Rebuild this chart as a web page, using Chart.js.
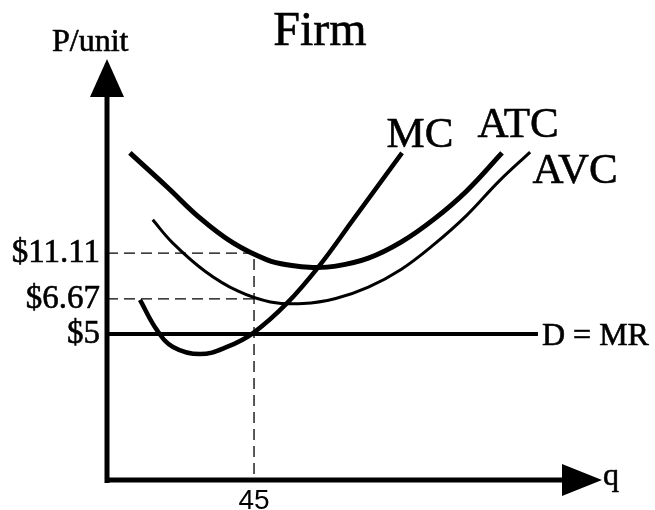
<!DOCTYPE html>
<html>
<head>
<meta charset="utf-8">
<script src="https://cdn.jsdelivr.net/npm/chart.js@4.4.1/dist/chart.umd.min.js"></script>
<style>
  html, body { margin: 0; padding: 0; background: #fff; }
  canvas { display: block; }
</style>
</head>
<body>
<canvas id="chart" width="655" height="510"></canvas>
<script>
// curves: q on x, y in drawing units (the price axis is not to scale)
const mcQ  = [10.1, 15.3, 20.2, 28.5, 36.7, 44.7, 55.1, 65.2, 75.3, 90.3];
const mcY  = [42.8, 35.6, 31.6, 29.9, 31.6, 34.9, 42.0, 51.1, 61.8, 77.7];
const atcQ = [7.0, 18.4, 28.5, 38.6, 49.0, 56.0, 63.0, 70.0, 80.0, 90.0, 100.0, 110.0, 120.9];
const atcY = [77.7, 69.6, 62.2, 56.3, 52.3, 51.0, 50.5, 50.8, 52.7, 56.5, 61.9, 68.6, 77.7];
const avcQ = [14.0, 20.0, 30.0, 40.0, 50.0, 60.0, 70.0, 80.0, 90.0, 100.0, 110.0, 120.0, 129.5];
const avcY = [61.8, 56.4, 49.6, 44.9, 42.3, 41.9, 43.1, 45.8, 50.0, 55.9, 62.8, 71.0, 77.9];

// D = MR line
const demandQ = [0, 131.9];
const demandY = [34.7, 34.7];

// tick labels
const priceTicks  = [34.7, 43.0, 53.9];
const priceLabels = ['$5', '$6.67', '$11.11'];
const qTicks  = [45];
const qLabels = ['45'];

const SERIF = "'Liberation Serif', 'Times New Roman', serif";

const pts = (xs, ys) => xs.map((q, i) => ({x: q, y: ys[i]}));

// dashed guides from the price ticks over to q = 45
const guideAtc = [{x: 0, y: priceTicks[2]}, {x: qTicks[0], y: priceTicks[2]}, {x: qTicks[0], y: 0}];
const guideAvc = [{x: 0, y: priceTicks[1]}, {x: qTicks[0], y: priceTicks[1]}];

const curve = (label, data, width) => ({
  label, data,
  borderColor: '#000',
  borderWidth: width,
  pointRadius: 0,
  tension: 0.4,
  fill: false
});
const dashed = (label, data) => ({
  label, data,
  borderColor: '#000',
  borderWidth: 1.3,
  borderDash: [11, 6],
  pointRadius: 0,
  tension: 0,
  fill: false
});

// axes with arrows + free text labels
const sketch = {
  id: 'sketch',
  afterDatasetsDraw(chart) {
    const {ctx, chartArea: a} = chart;
    ctx.save();
    ctx.fillStyle = '#000';
    ctx.strokeStyle = '#000';
    ctx.lineWidth = 5;
    ctx.beginPath();
    ctx.moveTo(a.left, a.bottom + 3);
    ctx.lineTo(a.left, a.top + 30);
    ctx.moveTo(a.left - 2, a.bottom);
    ctx.lineTo(a.right - 30, a.bottom);
    ctx.stroke();

    ctx.beginPath();
    ctx.moveTo(a.left, a.top);
    ctx.lineTo(a.left - 17, a.top + 38);
    ctx.lineTo(a.left + 17, a.top + 38);
    ctx.closePath();
    ctx.fill();

    ctx.beginPath();
    ctx.moveTo(a.right, a.bottom);
    ctx.lineTo(a.right - 40, a.bottom - 16);
    ctx.lineTo(a.right - 40, a.bottom + 16);
    ctx.closePath();
    ctx.fill();

    // text a touch heavier, like the scanned original
    ctx.lineWidth = 0.6;
    const text = (s, x, y) => { ctx.fillText(s, x, y); ctx.strokeText(s, x, y); };

    ctx.textBaseline = 'alphabetic';
    ctx.textAlign = 'center';
    ctx.font = '48px ' + SERIF;
    text('Firm', 320, 45);

    ctx.font = '43px ' + SERIF;
    text('MC', 420, 147);
    text('ATC', 518, 137);
    text('AVC', 575, 183);

    ctx.textAlign = 'left';
    ctx.font = '32px ' + SERIF;
    text('P/unit', 52, 51);
    text('q', 603, 485);
    text('D = MR', 542, 345);
    ctx.restore();
  }
};

new Chart(document.getElementById('chart'), {
  type: 'line',
  data: {
    datasets: [
      curve('MC', pts(mcQ, mcY), 4.5),
      curve('ATC', pts(atcQ, atcY), 5),
      curve('AVC', pts(avcQ, avcY), 3),
      curve('D = MR', pts(demandQ, demandY), 4),
      dashed('guide ATC', guideAtc),
      dashed('guide AVC', guideAvc)
    ]
  },
  options: {
    responsive: false,
    animation: false,
    layout: {padding: {top: 59, right: 53, left: 0, bottom: 0}},
    plugins: {
      legend: {display: false},
      tooltip: {enabled: false}
    },
    scales: {
      x: {
        type: 'linear',
        min: 0,
        max: 151.5,
        grid: {display: false, drawTicks: false},
        border: {display: false},
        afterBuildTicks: (s) => { s.ticks = qTicks.map(v => ({value: v})); },
        afterFit: (s) => { s.height = 30; },
        ticks: {
          autoSkip: false,
          maxRotation: 0,
          padding: 4,
          color: '#000',
          font: {family: "'Liberation Sans', Arial, sans-serif", size: 28},
          callback: (v) => qLabels[qTicks.indexOf(v)]
        }
      },
      y: {
        type: 'linear',
        min: 0,
        max: 100,
        grid: {display: false, drawTicks: false},
        border: {display: false},
        afterBuildTicks: (s) => { s.ticks = priceTicks.map(v => ({value: v})); },
        afterFit: (s) => { s.width = 107; },
        ticks: {
          autoSkip: false,
          padding: 7,
          color: '#000',
          textStrokeColor: '#000',
          textStrokeWidth: 0.6,
          font: {family: SERIF, size: 33},
          callback: (v) => priceLabels[priceTicks.indexOf(v)]
        }
      }
    }
  },
  plugins: [sketch]
});
</script>
</body>
</html>
